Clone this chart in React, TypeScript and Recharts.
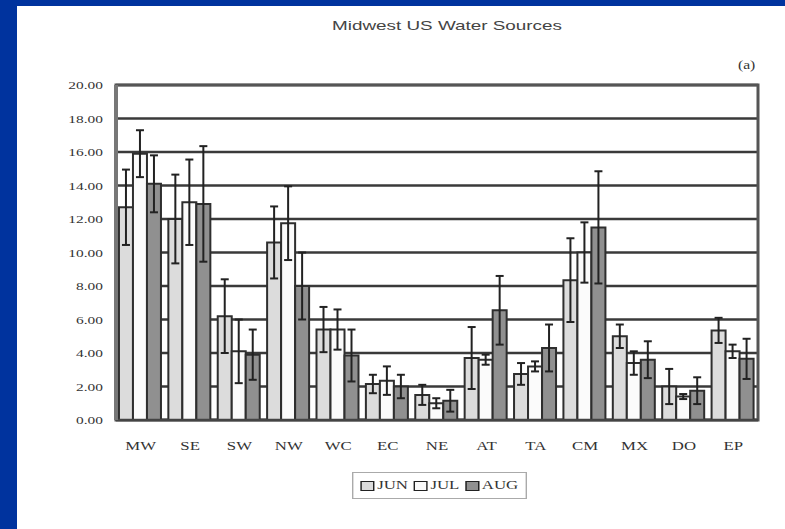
import { BarChart, Bar, XAxis, YAxis, CartesianGrid, ErrorBar, ReferenceArea } from 'recharts';

// regions along the x axis
const regions = ['MW', 'SE', 'SW', 'NW', 'WC', 'EC', 'NE', 'AT', 'TA', 'CM', 'MX', 'DO', 'EP'];

// monthly means and their error half-widths
const jun = [12.7, 12.0, 6.2, 10.6, 5.4, 2.15, 1.5, 3.7, 2.75, 8.35, 5.0, 2.0, 5.35];
const junErr = [2.25, 2.65, 2.2, 2.15, 1.35, 0.55, 0.6, 1.85, 0.65, 2.5, 0.7, 1.05, 0.75];
const jul = [15.9, 13.0, 4.1, 11.75, 5.4, 2.35, 1.0, 3.6, 3.2, 10.0, 3.4, 1.4, 4.1];
const julErr = [1.4, 2.55, 1.9, 2.2, 1.2, 0.85, 0.3, 0.3, 0.3, 1.8, 0.7, 0.15, 0.4];
const aug = [14.1, 12.9, 3.9, 8.0, 3.85, 2.0, 1.15, 6.55, 4.3, 11.5, 3.6, 1.75, 3.65];
const augErr = [1.7, 3.45, 1.5, 2.0, 1.55, 0.7, 0.65, 2.05, 1.4, 3.35, 1.1, 0.8, 1.2];

const yTicks = [0, 2, 4, 6, 8, 10, 12, 14, 16, 18, 20];

const data = regions.map((region, i) => ({
  region,
  jun: jun[i],
  junErr: junErr[i],
  jul: jul[i],
  julErr: julErr[i],
  aug: aug[i],
  augErr: augErr[i],
}));

const JUN_FILL = '#dcdcdc';
const JUL_FILL = '#fbfbfb';
const AUG_FILL = '#909090';
const INK = '#2e2e2e';
const SERIF = '"Liberation Serif", "DejaVu Serif", serif';
const STRETCH = 1.4;

const legendItems = [
  { label: 'JUN', fill: JUN_FILL },
  { label: 'JUL', fill: JUL_FILL },
  { label: 'AUG', fill: AUG_FILL },
];

function YTick({ x, y, payload }: any) {
  return (
    <text
      transform={`translate(${x - 1},${y}) scale(${STRETCH},1)`}
      textAnchor="end"
      dy={4}
      fontSize={11}
      fontFamily={SERIF}
      fill="#333"
    >
      {Number(payload.value).toFixed(2)}
    </text>
  );
}

function XTick({ x, y, payload }: any) {
  return (
    <text
      transform={`translate(${x},${y}) scale(${STRETCH},1)`}
      textAnchor="middle"
      dy={22}
      fontSize={12}
      fontFamily={SERIF}
      fill="#333"
    >
      {payload.value}
    </text>
  );
}

export default function App() {
  return (
    <div
      style={{
        position: 'absolute',
        left: 0,
        top: 0,
        width: 785,
        height: 529,
        background: '#fff',
        overflow: 'hidden',
      }}
    >
      {/* blue slide frame */}
      <div style={{ position: 'absolute', left: 0, top: 0, width: 17, height: 529, background: '#00339e' }} />
      <div style={{ position: 'absolute', left: 0, top: 0, width: 785, height: 6, background: '#00339e' }} />

      <div
        style={{
          position: 'absolute',
          left: 447,
          top: 18,
          transform: `translateX(-50%) scale(1.45,1)`,
          fontFamily: '"Liberation Sans", Arial, sans-serif',
          fontSize: 13,
          color: '#444',
          whiteSpace: 'nowrap',
        }}
      >
        Midwest US Water Sources
      </div>
      <div
        style={{
          position: 'absolute',
          left: 738,
          top: 58,
          fontFamily: SERIF,
          fontSize: 12,
          color: '#333',
          transform: 'scale(1.3,1)',
          transformOrigin: 'left top',
        }}
      >
        (a)
      </div>

      <div style={{ position: 'absolute', left: 0, top: 0 }}>
        <BarChart
          width={785}
          height={529}
          data={data}
          margin={{ top: 85, right: 27, left: 56, bottom: 79 }}
          barCategoryGap="6%"
          barGap={0}
        >
          <CartesianGrid vertical={false} stroke="#3a3a3a" strokeWidth={2.5} />
          <ReferenceArea y1={0} y2={20} fill="none" stroke="#555" strokeWidth={3} ifOverflow="visible" />
          <XAxis
            dataKey="region"
            height={30}
            axisLine={{ stroke: '#444', strokeWidth: 2.5 }}
            tickLine={false}
            tick={<XTick />}
            interval={0}
          />
          <YAxis
            width={60}
            domain={[0, 20]}
            ticks={yTicks}
            axisLine={{ stroke: '#777', strokeWidth: 4 }}
            tickLine={false}
            tickMargin={6}
            tick={<YTick />}
          />
          <Bar dataKey="jun" fill={JUN_FILL} stroke={INK} strokeWidth={2} isAnimationActive={false}>
            <ErrorBar dataKey="junErr" width={4} stroke="#222" strokeWidth={2} />
          </Bar>
          <Bar dataKey="jul" fill={JUL_FILL} stroke={INK} strokeWidth={2} isAnimationActive={false}>
            <ErrorBar dataKey="julErr" width={4} stroke="#222" strokeWidth={2} />
          </Bar>
          <Bar dataKey="aug" fill={AUG_FILL} stroke={INK} strokeWidth={2} isAnimationActive={false}>
            <ErrorBar dataKey="augErr" width={4} stroke="#222" strokeWidth={2} />
          </Bar>
        </BarChart>
      </div>

      {/* legend */}
      <div
        style={{
          position: 'absolute',
          left: 352,
          top: 472,
          transform: `scale(${STRETCH},1)`,
          transformOrigin: 'left top',
          display: 'flex',
          alignItems: 'center',
          gap: 4,
          border: '1px solid #aaa',
          padding: '5px 5px',
          fontFamily: SERIF,
          fontSize: 12,
          color: '#333',
          background: '#fff',
        }}
      >
        {legendItems.map((item) => (
          <span key={item.label} style={{ display: 'flex', alignItems: 'center' }}>
            <span
              style={{
                display: 'inline-block',
                width: 8,
                height: 8,
                border: '1.5px solid #222',
                background: item.fill,
                marginRight: 2,
              }}
            />
            {item.label}
          </span>
        ))}
      </div>
    </div>
  );
}
